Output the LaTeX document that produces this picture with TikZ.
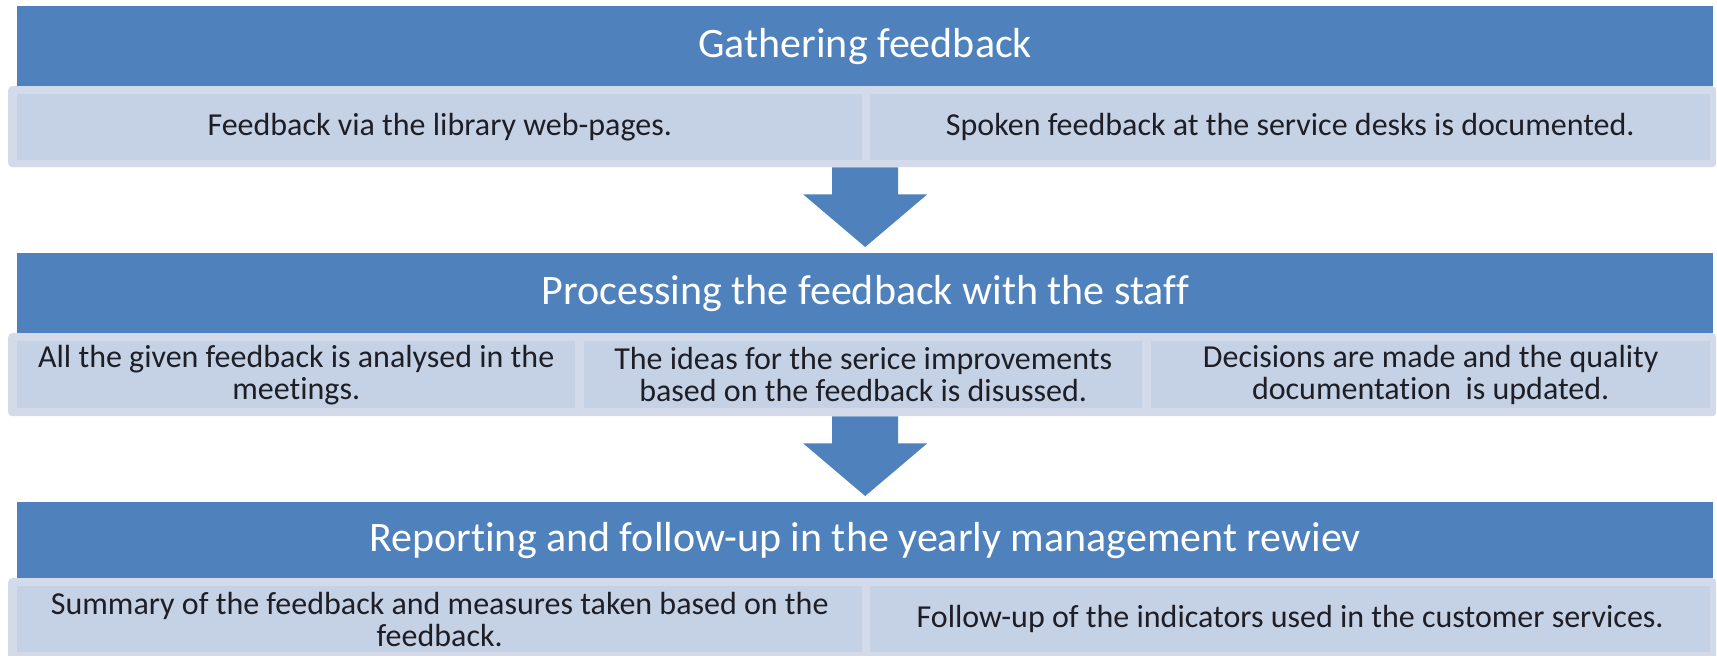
\documentclass[tikz,border=0pt]{standalone}
\usepackage{fontspec}
\setmainfont{Carlito}[Ligatures={NoCommon}]
\usetikzlibrary{calc}
\definecolor{hdr}{HTML}{4F81BD}
\definecolor{bandc}{HTML}{D3DAE9}
\definecolor{cellc}{HTML}{C5D1E4}
\definecolor{txt}{HTML}{1E1E26}
\tikzset{
  hdrbox/.style={fill=hdr, text=white, font=\fontsize{42}{50}\selectfont, inner sep=0pt, anchor=north west},
  bandbox/.style={fill=bandc, rounded corners=4pt, inner sep=0pt, anchor=north west},
  cellbox/.style={fill=cellc, text=txt, font=\fontsize{32}{32}\selectfont, inner sep=0pt, anchor=north west, align=center},
  arrowc/.style={fill=hdr}
}
\begin{document}
\begin{tikzpicture}[x=1pt,y=-1pt]
\useasboundingbox[fill=white] (0,0) rectangle (1717,656);

% Stage 1
\node[hdrbox, minimum width=1696pt, minimum height=80pt] (h1) at (17,6) {Gathering feedback};
\node[bandbox, minimum width=1708pt, minimum height=81pt] (b1) at (8,86) {};
\node[cellbox, minimum width=845pt, minimum height=66pt] (c11) at (17,94) {Feedback via the library web-pages.};
\node[cellbox, minimum width=840pt, minimum height=66pt] (c12) at (870,94) {Spoken feedback at the service desks is documented.};

% Stage 2
\node[hdrbox, minimum width=1696pt, minimum height=80pt] (h2) at (17,253) {Processing the feedback with the staff};
\node[bandbox, minimum width=1708pt, minimum height=83pt] (b2) at (8,333) {};
\node[cellbox, minimum width=558pt, minimum height=67pt] (c21) at (17,341) {All the given feedback is analysed in the\\meetings.};
\node[cellbox, minimum width=558pt, minimum height=67pt] (c22) at (584,341) {The ideas for the serice improvements\\based on the feedback is disussed.};
\node[cellbox, minimum width=559pt, minimum height=67pt] (c23) at (1151,341) {Decisions are made and the quality\\documentation\ \ is updated.};

% Stage 3
\node[hdrbox, minimum width=1696pt, minimum height=76pt] (h3) at (17,502) {Reporting and follow-up in the yearly management rewiev};
\node[bandbox, minimum width=1708pt, minimum height=82pt] (b3) at (8,578) {};
\node[cellbox, minimum width=845pt, minimum height=66pt] (c31) at (17,586) {Summary of the feedback and measures taken based on the\\feedback.};
\node[cellbox, minimum width=840pt, minimum height=66pt] (c32) at (870,586) {Follow-up of the indicators used in the customer services.};

% Arrows
\coordinate (a1t) at (h2.north|-b1.south);
\fill[arrowc] ($(a1t)+(-33,0)$) -- ($(a1t)+(33,0)$) -- ($(a1t)+(33,27)$) -- ($(a1t)+(62,27)$)
  -- ($(h2.north)+(0,-6)$) -- ($(a1t)+(-62,27)$) -- ($(a1t)+(-33,27)$) -- cycle;
\coordinate (a2t) at (h3.north|-b2.south);
\fill[arrowc] ($(a2t)+(-33,0)$) -- ($(a2t)+(33,0)$) -- ($(a2t)+(33,27)$) -- ($(a2t)+(62,27)$)
  -- ($(h3.north)+(0,-6)$) -- ($(a2t)+(-62,27)$) -- ($(a2t)+(-33,27)$) -- cycle;
\end{tikzpicture}
\end{document}
